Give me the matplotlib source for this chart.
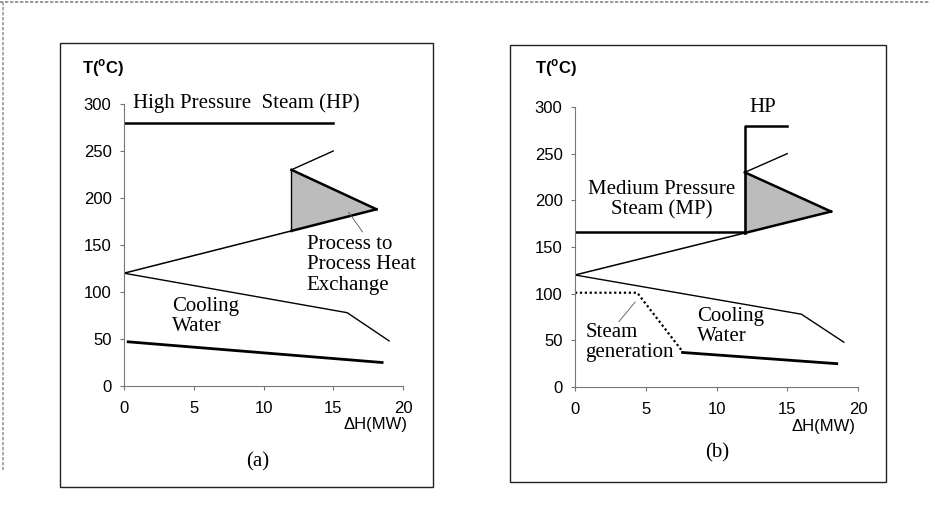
import matplotlib.pyplot as plt
from matplotlib.patches import Rectangle, Polygon
from matplotlib.lines import Line2D

# shared process streams (both panels)
hot_x = [0, 16, 19]
hot_y = [120, 78, 48]
cold_x = [0, 12, 18.1]
cold_y = [120, 165, 188]
tri_x = [12, 18.1, 12]
tri_y = [165, 188, 230]
cold_top_x = [12, 15]
cold_top_y = [230, 250]

# panel (a)
hp_a_x = [0, 15]
hp_a_y = [280, 280]
cw_a_x = [0.3, 18.5]
cw_a_y = [47, 25]

# panel (b)
hp_b_x = [12, 12, 15]
hp_b_y = [165, 280, 280]
mp_x = [0, 12]
mp_y = [166, 166]
sg_x = [0, 4.4, 7.6]
sg_y = [101, 101, 38]
cw_b_x = [7.6, 18.5]
cw_b_y = [37, 25]

xticks = [0, 5, 10, 15, 20]
yticks = [0, 50, 100, 150, 200, 250, 300]

serif = 'Liberation Serif'
sans = 'Liberation Sans'
fs = 15

fig = plt.figure(figsize=(9.3, 5.16), dpi=100)
W, H = 930, 516

def fbox(x0, y0, x1, y1):
    return [x0 / W, 1 - y1 / H, (x1 - x0) / W, (y1 - y0) / H]

# panel frames
for x0, y0, x1, y1 in [(60, 43, 433, 487), (510, 45, 886, 482)]:
    r = fbox(x0, y0, x1, y1)
    fig.add_artist(Rectangle((r[0], r[1]), r[2], r[3], transform=fig.transFigure,
                             fill=False, lw=1.0, ec='#222222'))
# scan edges
fig.add_artist(Line2D([0, 1], [1 - 2 / H, 1 - 2 / H], transform=fig.transFigure,
                      color='#888888', lw=1.2, ls=(0, (2, 1))))
fig.add_artist(Line2D([3 / W, 3 / W], [1 - 2 / H, 1 - 470 / H], transform=fig.transFigure,
                      color='#999999', lw=1.2, ls=(0, (2, 1))))

ax1 = fig.add_axes(fbox(124, 104, 403, 386))
ax2 = fig.add_axes(fbox(575, 107, 858, 387))

for ax in (ax1, ax2):
    ax.set_xlim(0, 20)
    ax.set_ylim(0, 300)
    ax.set_xticks(xticks)
    ax.set_yticks(yticks)
    for s in ('top', 'right'):
        ax.spines[s].set_visible(False)
    for s in ('left', 'bottom'):
        ax.spines[s].set_color('#777777')
        ax.spines[s].set_linewidth(0.8)
    ax.tick_params(axis='y', length=3, width=0.8, color='#777777', pad=6, labelsize=12)
    ax.tick_params(axis='x', length=3, width=0.8, color='#777777', pad=8, labelsize=12)
    for lab in ax.get_xticklabels() + ax.get_yticklabels():
        lab.set_fontfamily(sans)
    ax.patch.set_visible(False)

    # shared streams
    ax.add_patch(Polygon(list(zip(tri_x, tri_y)), closed=True, fc='#bcbcbc', ec='none'))
    ax.plot(hot_x, hot_y, color='black', lw=1.0)
    ax.plot(cold_x[:2], cold_y[:2], color='black', lw=1.1)
    ax.plot(cold_x[1:], cold_y[1:], color='black', lw=1.8)
    ax.plot(tri_x[1:], tri_y[1:], color='black', lw=1.8)
    ax.plot([tri_x[0], tri_x[2]], [tri_y[0], tri_y[2]], color='black', lw=1.0)
    ax.plot(cold_top_x, cold_top_y, color='black', lw=1.0)

# panel (a)
ax1.plot(hp_a_x, hp_a_y, color='black', lw=1.8)
ax1.plot(cw_a_x, cw_a_y, color='black', lw=2.0)
ax1.text(0.65, 301, 'High Pressure  Steam (HP)', family=serif, fontsize=fs, va='center')
ax1.text(13.1, 129, 'Process to\nProcess Heat\nExchange', family=serif, fontsize=fs,
         va='center', linespacing=1.1)
ax1.plot([16.1, 17.1], [185, 164], color='#555555', lw=0.6)
ax1.text(3.45, 74, 'Cooling\nWater', family=serif, fontsize=fs, va='center', linespacing=1.1)

# panel (b)
ax2.plot(hp_b_x, hp_b_y, color='black', lw=1.8)
ax2.plot(mp_x, mp_y, color='black', lw=1.8)
ax2.plot(sg_x, sg_y, color='black', lw=1.6, ls=(0, (1, 1.2)))
ax2.plot(cw_b_x, cw_b_y, color='black', lw=2.0)
ax2.text(13.3, 300, 'HP', family=serif, fontsize=fs, ha='center', va='center')
ax2.text(6.1, 201, 'Medium Pressure\nSteam (MP)', family=serif, fontsize=fs,
         ha='center', va='center', linespacing=1.1)
ax2.text(8.6, 65, 'Cooling\nWater', family=serif, fontsize=fs, va='center', linespacing=1.1)
ax2.text(0.75, 48, 'Steam\ngeneration', family=serif, fontsize=fs, va='center', linespacing=1.05)
ax2.plot([3.1, 4.25], [70, 91], color='#555555', lw=0.6)

# axis titles and panel labels
for (tx, ty), (hx, hy), (px, py), lab in [((103, 68), (375, 425), (258, 462), '(a)'),
                                          ((556, 68), (823, 427), (717, 453), '(b)')]:
    fig.text(tx / W, 1 - ty / H, 'T($^{\\mathregular{o}}$C)', family=sans, fontsize=12,
             fontweight='bold', ha='center', va='center')
    fig.text(hx / W, 1 - hy / H, 'ΔH(MW)', family=sans, fontsize=12, ha='center', va='center')
    fig.text(px / W, 1 - py / H, lab, family=serif, fontsize=fs, ha='center', va='center')

fig.savefig('out.png', dpi=100)
